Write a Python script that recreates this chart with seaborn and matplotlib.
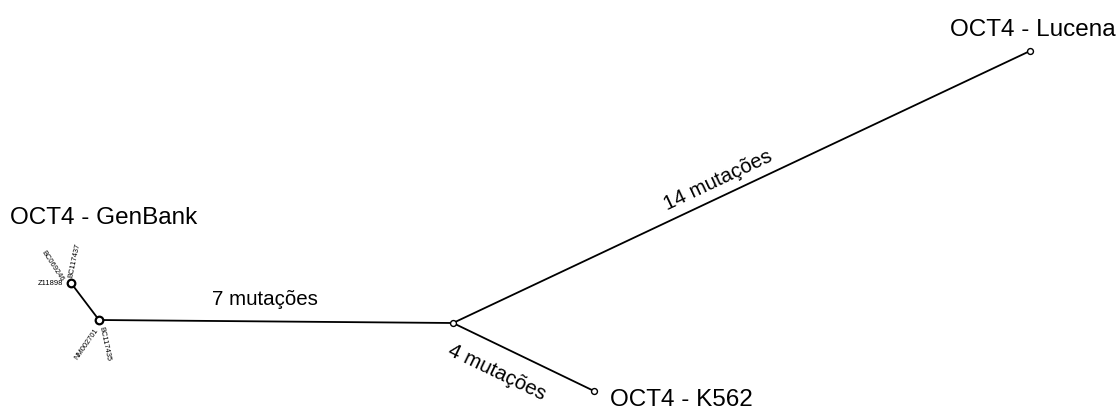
import matplotlib
matplotlib.use("Agg")
import matplotlib.pyplot as plt
import seaborn as sns
import pandas as pd

sns.set_theme(style="white")
plt.rcParams["font.family"] = ["Liberation Sans", "DejaVu Sans"]

# Haplotype network nodes (layout coordinates)
node_names = ["Z11898", "NM002701", "hub", "Lucena", "K562"]
node_x = [71, 99, 453, 1030, 594]
node_y = [284, 321, 324, 52, 392]
node_size = [30, 30, 18, 18, 18]
node_lw = [1.6, 1.6, 1.0, 1.0, 1.0]

# Edges between nodes
edge_from = ["Z11898", "NM002701", "hub", "hub"]
edge_to = ["NM002701", "hub", "Lucena", "K562"]

# Group labels
group_labels = ["OCT4 - GenBank", "OCT4 - Lucena", "OCT4 - K562"]
group_x = [10, 950, 610]
group_y = [218, 30, 400]

# Mutation counts on edges
mut_text = ["7 mutações", "14 mutações", "4 mutações"]
mut_x = [265, 718, 497]
mut_y = [300, 180, 372]
mut_rot = [0, 25.2, -25.7]

# Accession labels around the GenBank nodes
acc_text = ["Z11898", "BC069246", "BC117437", "NM002701", "BC117435"]
acc_x = [50, 52, 75, 87, 104]
acc_y = [284, 266, 260, 344, 344]
acc_rot = [0, -57, 78, 55, -78]

pos = dict(zip(node_names, zip(node_x, node_y)))
rows = []
for i, (a, b) in enumerate(zip(edge_from, edge_to)):
    rows.append({"edge": i, "x": pos[a][0], "y": pos[a][1], "o": 0})
    rows.append({"edge": i, "x": pos[b][0], "y": pos[b][1], "o": 1})
edges = pd.DataFrame(rows)

fig = plt.figure(figsize=(11.18, 4.10), dpi=100)
ax = fig.add_axes([0, 0, 1, 1])

sns.lineplot(data=edges, x="x", y="y", units="edge", estimator=None, sort=False,
             color="black", linewidth=1.3, ax=ax, legend=False)
for i in range(len(node_names)):
    sns.scatterplot(x=[node_x[i]], y=[node_y[i]], s=node_size[i], color="white",
                    edgecolor="black", linewidth=node_lw[i], ax=ax, zorder=5,
                    legend=False)

for t, x, y in zip(group_labels, group_x, group_y):
    ax.text(x, y, t, fontsize=17.5, ha="left", va="center", color="black")
for t, x, y, r in zip(mut_text, mut_x, mut_y, mut_rot):
    ax.text(x, y, t, fontsize=14.8, ha="center", va="center", rotation=r,
            rotation_mode="anchor", color="black")
for t, x, y, r in zip(acc_text, acc_x, acc_y, acc_rot):
    ax.text(x, y, t, fontsize=5.4, ha="center", va="center", rotation=r,
            rotation_mode="anchor", color="black")

ax.set_xlim(0, 1118)
ax.set_ylim(410, 0)
ax.axis("off")
fig.savefig("out.png", dpi=100, facecolor="white")
